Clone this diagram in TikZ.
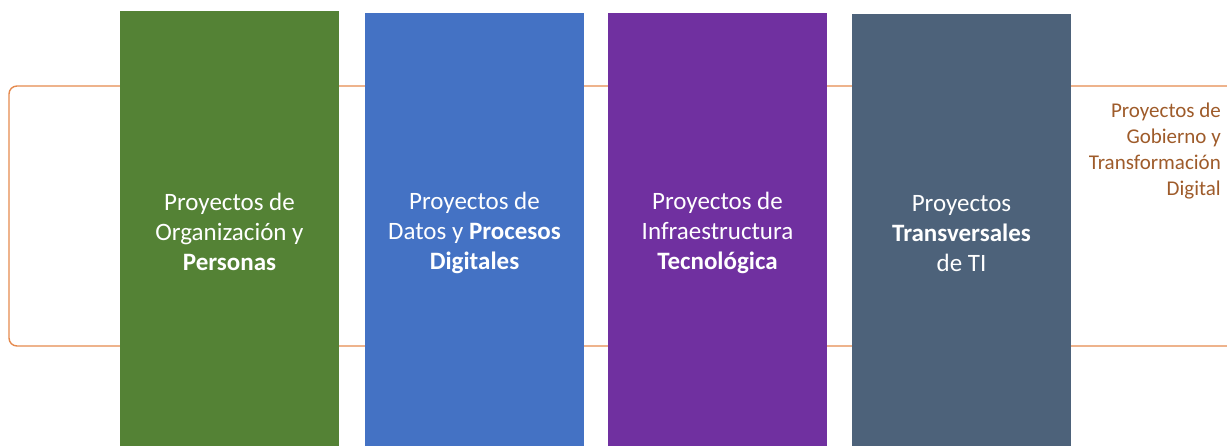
\documentclass[tikz,border=0pt]{standalone}
\usepackage{fontspec}
\setmainfont{Carlito}
\definecolor{cgreen}{HTML}{548235}
\definecolor{cblue}{HTML}{4472C4}
\definecolor{cpurple}{HTML}{7030A0}
\definecolor{cslate}{HTML}{4D627A}
\definecolor{corange}{HTML}{E58A4E}
\definecolor{cbrown}{HTML}{9E5B2A}
\begin{document}
\begin{tikzpicture}[x=1pt,y=-1pt,
  pillar/.style={anchor=north west, minimum width=219pt, inner sep=0pt, outer sep=0pt,
    text=white, align=center, font=\fontsize{25}{30}\selectfont},
  frameline/.style={draw=corange, line width=1.4pt, rounded corners=8pt}]
\useasboundingbox (0,0) rectangle (1227,445);
\coordinate (ftr) at (1240,86);
\coordinate (fbr) at (1240,346);
\draw[frameline] (ftr) -- (9,86) -- (9,346) -- (fbr);
\node[pillar, fill=cgreen, minimum height=442pt] (p1) at (120,11)
  {Proyectos de\\Organización y\\\textbf{Personas}};
\node[pillar, fill=cblue, minimum height=440pt] (p2) at (365,13)
  {Proyectos de\\Datos y \textbf{Procesos}\\\textbf{Digitales}};
\node[pillar, fill=cpurple, minimum height=440pt] (p3) at (608,13)
  {Proyectos de\\Infraestructura\\\textbf{Tecnológica}};
\node[pillar, fill=cslate, minimum height=439pt] (p4) at (852,14)
  {Proyectos\\\textbf{Transversales}\\de TI};
\node[anchor=east, align=right, text=cbrown, inner sep=0pt,
  font=\fontsize{21}{26}\selectfont] (lbl) at (1221,151)
  {Proyectos de\\Gobierno y\\Transformación\\Digital};
\end{tikzpicture}
\end{document}
